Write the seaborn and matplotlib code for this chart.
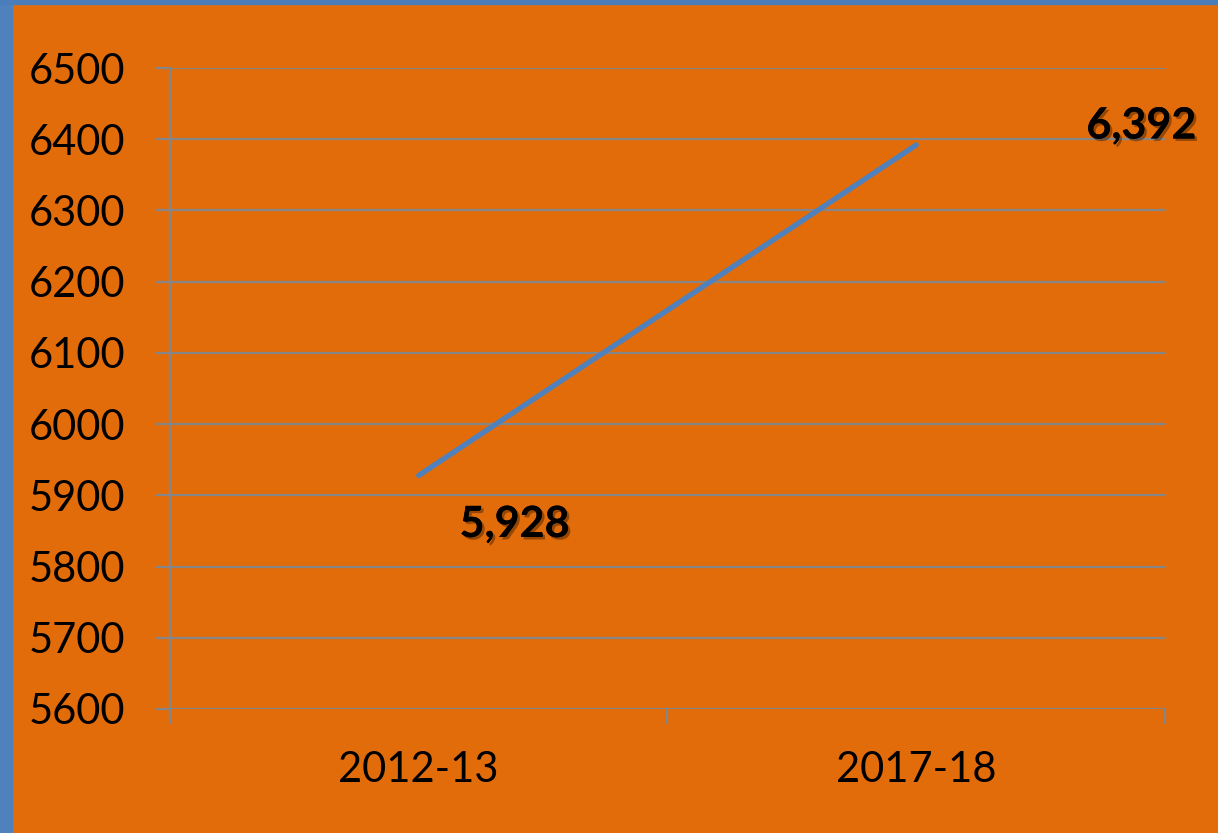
import matplotlib
matplotlib.use("Agg")
import matplotlib.pyplot as plt
import matplotlib.patheffects as pe
from matplotlib.patches import Rectangle
import seaborn as sns
import pandas as pd

# data
years = ['2012-13', '2017-18']
values = [5928, 6392]
value_labels = ['5,928', '6,392']
label_offsets = [(69, -35), (162, 14)]  # points, from each data point
yticks = [5600, 5700, 5800, 5900, 6000, 6100, 6200, 6300, 6400, 6500]

df = pd.DataFrame({'Year': years, 'Value': values})

bg = '#E36C0A'
grid_col = '#868686'

sns.set_style('white')
plt.rcParams['font.family'] = ['Lato', 'DejaVu Sans']

fig = plt.figure(figsize=(12.18, 8.33), dpi=100)
fig.patch.set_facecolor(bg)
# blue strips at the left and top edges
fig.add_artist(Rectangle((0, 0), 12 / 1218, 1, transform=fig.transFigure, color='#4F81BD', zorder=0))
fig.add_artist(Rectangle((0, 1 - 4 / 833), 1, 4 / 833, transform=fig.transFigure, color='#4A7EBB', zorder=0))

ax = fig.add_axes([170 / 1218, 1 - 709 / 833, 995 / 1218, 641 / 833])
ax.set_facecolor(bg)

sns.lineplot(data=df, x='Year', y='Value', ax=ax, color='#4F81BD', linewidth=3.8,
             solid_capstyle='round', sort=False)

ax.set_xlim(-0.5, 1.5)
ax.set_ylim(5600, 6500)
ax.set_yticks(yticks)
ax.set_xticks([0, 1])
ax.set_xticks([-0.5, 0.5, 1.5], minor=True)
ax.set_xticklabels(years)
ax.set_xlabel('')
ax.set_ylabel('')

ax.yaxis.grid(True, color=grid_col, linewidth=1.6)
ax.set_axisbelow(True)
for s in ['top', 'right', 'bottom']:
    ax.spines[s].set_visible(False)
ax.spines['left'].set_color(grid_col)
ax.spines['left'].set_linewidth(1.6)

ax.tick_params(axis='y', which='major', left=True, direction='out', length=11, width=1.6,
               color=grid_col, labelsize=30, pad=21, labelcolor='black')
ax.tick_params(axis='x', which='major', bottom=True, length=0, labelsize=30, pad=30, labelcolor='black')
ax.tick_params(axis='x', which='minor', bottom=True, direction='out', length=11, width=1.6, color=grid_col)

for i, (lab, off) in enumerate(zip(value_labels, label_offsets)):
    t = ax.annotate(lab, xy=(i, values[i]), xytext=off, textcoords='offset points',
                    ha='center', va='center', fontsize=31, fontweight='bold', color='black')
    t.set_path_effects([pe.withSimplePatchShadow(offset=(1.8, -1.8), shadow_rgbFace='#3a1a00', alpha=0.45),
                        pe.Normal()])

fig.savefig('out.png', dpi=100, facecolor=fig.get_facecolor())
